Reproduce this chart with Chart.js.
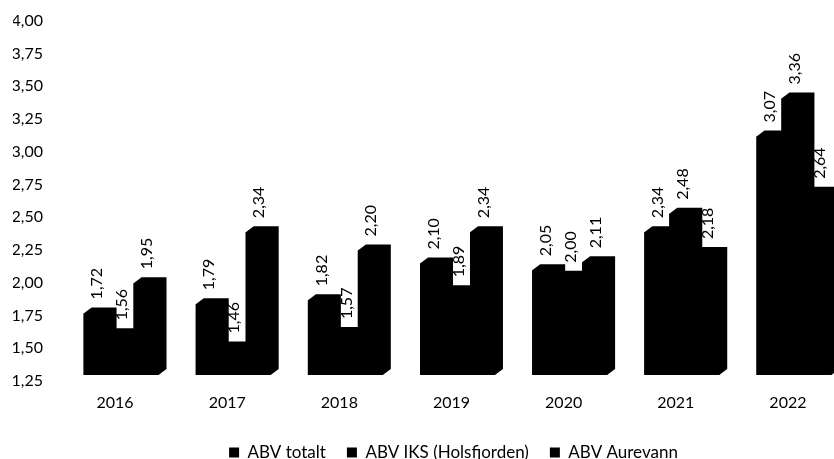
<!DOCTYPE html>
<html>
<head>
<meta charset="utf-8">
<script src="https://cdn.jsdelivr.net/npm/chart.js@4"></script>
<style>
  html, body { margin: 0; padding: 0; background: #fff; overflow: hidden; }
  #wrap { width: 860px; height: 488px; margin-top: -17px; }
</style>
</head>
<body>
<div id="wrap"><canvas id="abvChart" width="860" height="488"></canvas></div>
<script>
// data
const years = ["2016", "2017", "2018", "2019", "2020", "2021", "2022"];
const abvTotalt = [1.72, 1.79, 1.82, 2.10, 2.05, 2.34, 3.07];
const abvIks = [1.56, 1.46, 1.57, 1.89, 2.00, 2.48, 3.36];
const abvAurevann = [1.95, 2.34, 2.20, 2.34, 2.11, 2.18, 2.64];
const seriesNames = ["ABV totalt", "ABV IKS (Holsfjorden)", "ABV Aurevann"];
const yMin = 1.25;
const yMax = 4.00;
const yStep = 0.25;

const FONT = "Lato, 'Open Sans', sans-serif";
const DEPTH_X = 8;
const DEPTH_Y = 6;
const LEGEND_SHIFT = 22;

// komma som desimaltegn
function fmt(v) {
    return Number(v).toFixed(2).replace(".", ",");
}

// enkel "3D"-dybde bak hver stolpe
const depthPlugin = {
    id: "depth",
    beforeDatasetsDraw(chart) {
        const ctx = chart.ctx;
        const bottom = chart.chartArea.bottom;
        ctx.save();
        ctx.fillStyle = "#000";
        chart.data.datasets.forEach((ds, i) => {
            chart.getDatasetMeta(i).data.forEach(bar => {
                const L = bar.x - bar.width / 2;
                const R = bar.x + bar.width / 2;
                const T = bar.y;
                const B = Math.min(bar.base, bottom);
                ctx.beginPath();
                ctx.moveTo(L, T);
                ctx.lineTo(L + DEPTH_X, T - DEPTH_Y);
                ctx.lineTo(R + DEPTH_X, T - DEPTH_Y);
                ctx.lineTo(R + DEPTH_X, B - DEPTH_Y);
                ctx.lineTo(R, B);
                ctx.lineTo(L, B);
                ctx.closePath();
                ctx.fill();
            });
        });
        ctx.restore();
    }
};

// verdier, rotert 90 grader over stolpene
const valueLabels = {
    id: "valueLabels",
    afterDatasetsDraw(chart) {
        const ctx = chart.ctx;
        ctx.save();
        ctx.fillStyle = "#000";
        ctx.font = "16px " + FONT;
        ctx.textAlign = "left";
        ctx.textBaseline = "middle";
        chart.data.datasets.forEach((ds, i) => {
            chart.getDatasetMeta(i).data.forEach((bar, j) => {
                ctx.save();
                ctx.translate(bar.x + 1, bar.y - 14);
                ctx.rotate(-Math.PI / 2);
                ctx.fillText(fmt(ds.data[j]), 0, 0);
                ctx.restore();
            });
        });
        ctx.restore();
    }
};

// legenden står litt til høyre for midten i originalen
const legendShift = {
    id: "legendShift",
    afterLayout(chart) {
        if (chart.legend) {
            chart.legend.left += LEGEND_SHIFT;
            chart.legend.right += LEGEND_SHIFT;
        }
    }
};

const ctx = document.getElementById("abvChart").getContext("2d");
new Chart(ctx, {
    type: "bar",
    data: {
        labels: years,
        datasets: [
            { label: seriesNames[0], data: abvTotalt },
            { label: seriesNames[1], data: abvIks },
            { label: seriesNames[2], data: abvAurevann }
        ].map(d => Object.assign(d, {
            backgroundColor: "#000",
            borderWidth: 0,
            barPercentage: 1.0,
            categoryPercentage: 0.668
        }))
    },
    options: {
        responsive: false,
        animation: false,
        layout: { padding: { left: 13, right: 10, top: 12, bottom: 0 } },
        scales: {
            x: {
                grid: { display: false, drawTicks: false },
                border: { display: false },
                ticks: {
                    color: "#000",
                    font: { family: FONT, size: 16 },
                    padding: 18,
                    labelOffset: -6,
                    maxRotation: 0
                },
                afterFit: s => { s.height = 48; }
            },
            y: {
                min: yMin,
                max: yMax,
                grid: { display: false, drawTicks: false },
                border: { display: false },
                ticks: {
                    stepSize: yStep,
                    color: "#000",
                    font: { family: FONT, size: 16 },
                    padding: 22,
                    labelOffset: 6,
                    callback: v => fmt(v)
                },
                afterFit: s => { s.width = 52; }
            }
        },
        plugins: {
            legend: {
                position: "bottom",
                labels: {
                    color: "#000",
                    font: { family: FONT, size: 17 },
                    boxWidth: 10,
                    boxHeight: 10,
                    padding: 21
                }
            },
            tooltip: { enabled: false }
        }
    },
    plugins: [depthPlugin, valueLabels, legendShift]
});
</script>
</body>
</html>
